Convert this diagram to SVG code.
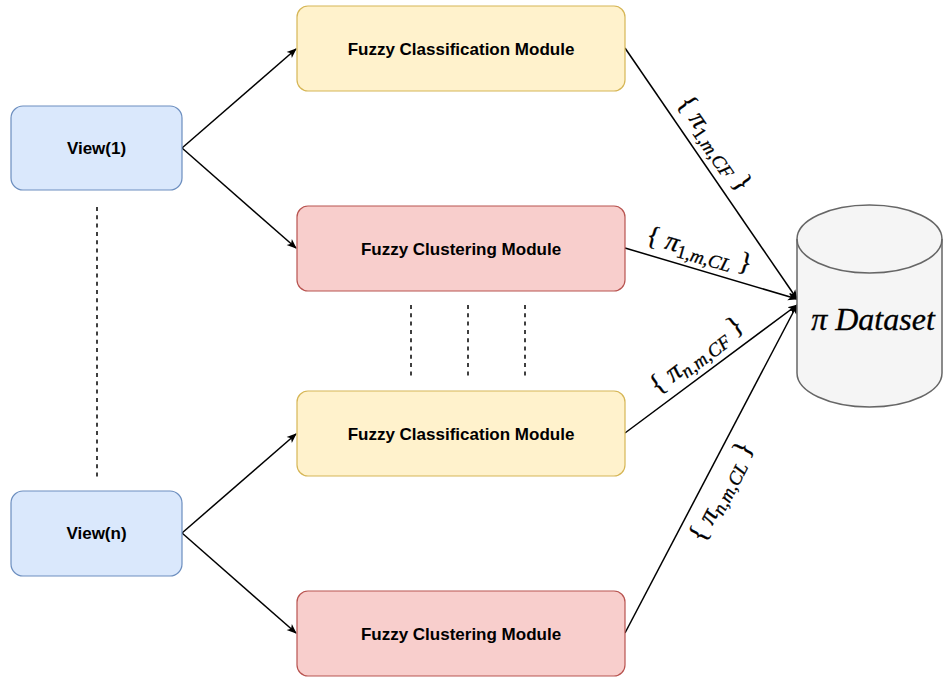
<svg xmlns="http://www.w3.org/2000/svg" width="943" height="679" viewBox="0 0 943 679">
<defs>
<marker id="arr" viewBox="0 0 10 10" refX="9" refY="5" markerWidth="10" markerHeight="10" markerUnits="userSpaceOnUse" orient="auto">
<path d="M0,1 L10,5 L0,9 L2.5,5 Z" fill="#000"/>
</marker>
<style>
.view{fill:#dae8fc;stroke:#6c8ebf;stroke-width:1.2}
.cls{fill:#fff2cc;stroke:#d6b656;stroke-width:1.2}
.clu{fill:#f8cecc;stroke:#b85450;stroke-width:1.2}
.t{font-family:"Liberation Sans",Arial,sans-serif;font-weight:bold;font-size:17px;text-anchor:middle;fill:#000}
.edge{stroke:#000;stroke-width:1.5;fill:none;marker-end:url(#arr)}
.dash{stroke:#000;stroke-width:1.5;fill:none;stroke-dasharray:4 4.3}
.lbl{font-family:"Liberation Serif","Times New Roman",serif;font-size:27px;text-anchor:middle;fill:#000;stroke:#000;stroke-width:0.3}
.sub{font-size:19px}
.it{font-style:italic}
</style>
</defs>
<rect width="943" height="679" fill="#fff"/>
<g id="connectors">
<line class="edge" x1="182" y1="148" x2="296" y2="49"/>
<line class="edge" x1="182" y1="148" x2="296" y2="248"/>
<line class="edge" x1="182" y1="533" x2="296" y2="434"/>
<line class="edge" x1="182" y1="533" x2="296" y2="633"/>
<line class="edge" x1="625" y1="48" x2="797" y2="299"/>
<line class="edge" x1="625" y1="248" x2="797" y2="299"/>
<line class="edge" x1="625" y1="433" x2="797" y2="305"/>
<line class="edge" x1="625" y1="633" x2="797" y2="305"/>
<line class="dash" x1="97" y1="207" x2="97" y2="477"/>
<line class="dash" x1="411" y1="305" x2="411" y2="377"/>
<line class="dash" x1="468" y1="305" x2="468" y2="377"/>
<line class="dash" x1="525" y1="305" x2="525" y2="377"/>
<text class="lbl" transform="translate(714,144) rotate(55.4)" x="0" y="7">{ <tspan class="it">π</tspan><tspan class="sub" dy="5">1,</tspan><tspan class="sub it">m</tspan><tspan class="sub">,</tspan><tspan class="sub it">CF</tspan><tspan dy="-5"> }</tspan></text>
<text class="lbl" transform="translate(699,251) rotate(15.9)" x="0" y="7">{ <tspan class="it">π</tspan><tspan class="sub" dy="5">1,</tspan><tspan class="sub it">m</tspan><tspan class="sub">,</tspan><tspan class="sub it">CL</tspan><tspan dy="-5"> }</tspan></text>
<text class="lbl" transform="translate(697,356) rotate(-37)" x="0" y="7">{ <tspan class="it">π</tspan><tspan class="sub it" dy="5">n</tspan><tspan class="sub">,</tspan><tspan class="sub it">m</tspan><tspan class="sub">,</tspan><tspan class="sub it">CF</tspan><tspan dy="-5"> }</tspan></text>
<text class="lbl" transform="translate(722,492) rotate(-62.5)" x="0" y="7">{ <tspan class="it">π</tspan><tspan class="sub it" dy="5">n</tspan><tspan class="sub">,</tspan><tspan class="sub it">m</tspan><tspan class="sub">,</tspan><tspan class="sub it">CL</tspan><tspan dy="-5"> }</tspan></text>
</g>
<g id="view1">
<rect class="view" x="11" y="106" width="171" height="84" rx="12"/>
<text class="t" x="96.5" y="154">View(1)</text>
</g>
<g id="viewn">
<rect class="view" x="11" y="491" width="171" height="85" rx="12"/>
<text class="t" x="96.5" y="539">View(n)</text>
</g>
<g id="class1">
<rect class="cls" x="297" y="6" width="328" height="85" rx="11"/>
<text class="t" x="461" y="55">Fuzzy Classification Module</text>
</g>
<g id="clust1">
<rect class="clu" x="297" y="206" width="328" height="85" rx="11"/>
<text class="t" x="461" y="255">Fuzzy Clustering Module</text>
</g>
<g id="class2">
<rect class="cls" x="297" y="391" width="328" height="85" rx="11"/>
<text class="t" x="461" y="440">Fuzzy Classification Module</text>
</g>
<g id="clust2">
<rect class="clu" x="297" y="591" width="328" height="85" rx="11"/>
<text class="t" x="461" y="640">Fuzzy Clustering Module</text>
</g>
<g id="dataset">
<path d="M797,239 A72.5,34 0 0 1 942,239 L942,373 A72.5,34 0 0 1 797,373 Z" fill="#f5f5f5" stroke="#666" stroke-width="1.5"/>
<path d="M797,239 A72.5,34 0 0 0 942,239" fill="none" stroke="#666" stroke-width="1.5"/>
<text x="873" y="330" font-family="'Liberation Serif','Times New Roman',serif" font-style="italic" font-size="32" text-anchor="middle" stroke="#000" stroke-width="0.3">π Dataset</text>
</g>
</svg>
